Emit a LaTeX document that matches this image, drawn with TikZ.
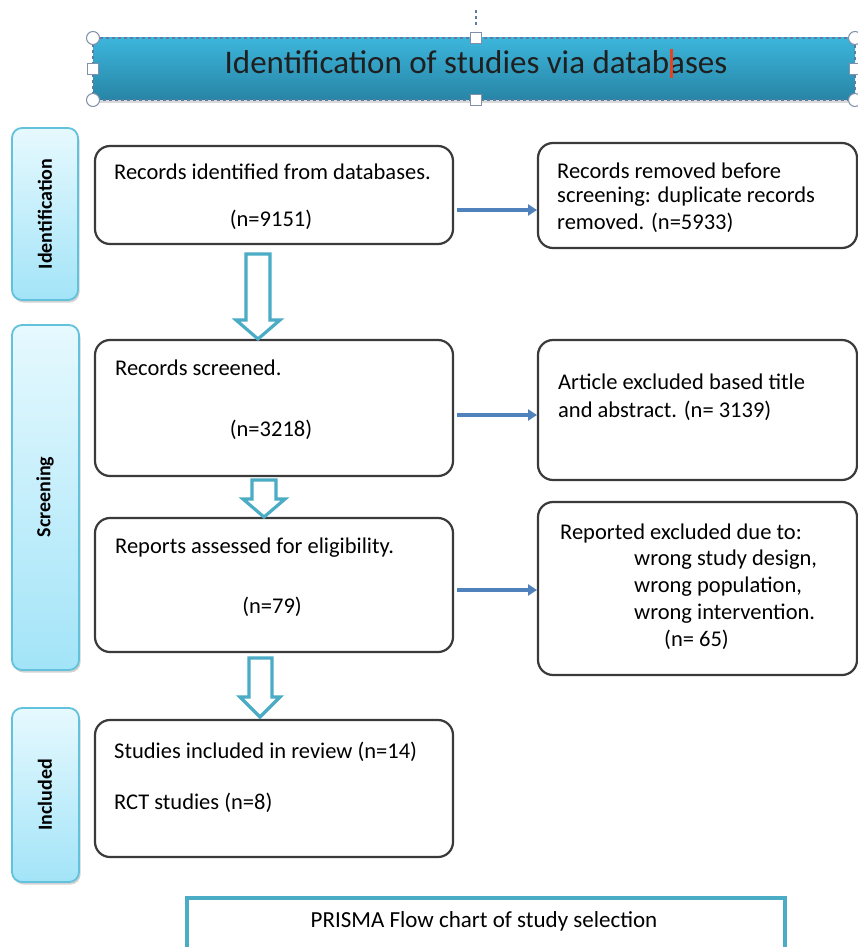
\documentclass[tikz,border=0pt]{standalone}
\usepackage{fontspec}
\setmainfont{Carlito}
\usetikzlibrary{arrows.meta,shadows,calc}
\definecolor{bannertop}{HTML}{3CB5DB}
\definecolor{bannerbot}{HTML}{2785A6}
\definecolor{bannerline}{HTML}{5B7DA3}
\definecolor{sidetop}{HTML}{E6F9FE}
\definecolor{sidebot}{HTML}{A3E4F8}
\definecolor{sideline}{HTML}{62C2DB}
\definecolor{boxline}{HTML}{3A3A3A}
\definecolor{flowblue}{HTML}{4F81BD}
\definecolor{hollowteal}{HTML}{4BACC6}
\definecolor{handle}{HTML}{8090A8}
\definecolor{cursorred}{HTML}{E8431F}
\begin{document}
\begin{tikzpicture}[x=1pt,y=-1pt,
  mainbox/.style={draw=boxline,line width=2.2pt,rounded corners=15pt,fill=white},
  sidebox/.style={draw=sideline,line width=1.8pt,rounded corners=10pt,top color=sidetop,bottom color=sidebot,
     drop shadow={opacity=0.35,shadow xshift=1.5pt,shadow yshift=-2.5pt}},
  sidetext/.style={rotate=90,font=\fontsize{20}{22}\selectfont\bfseries},
  txt/.style={anchor=west,inner sep=0pt,font=\fontsize{22.5}{25}\selectfont},
  ctxt/.style={anchor=center,inner sep=0pt,font=\fontsize{22.5}{25}\selectfont},
  barrow/.style={draw=flowblue,line width=3.2pt,-{Triangle[length=9pt,width=11pt]}},
  hollow/.style={draw=hollowteal,line width=3.2pt,fill=white,line join=miter},
  handlec/.style={circle,draw=handle,fill=white,line width=1pt,minimum size=13pt,inner sep=0pt},
  handles/.style={rectangle,draw=handle,fill=white,line width=1pt,minimum size=11pt,inner sep=0pt}
]
\useasboundingbox (0,0) rectangle (857,947);
\fill[white] (0,0) rectangle (857,947);

% banner
\draw[bannerline,dashed,line width=1.2pt] (476,10) -- (476,28);
\path[top color=bannertop,bottom color=bannerbot,drop shadow={opacity=0.3,shadow xshift=0pt,shadow yshift=-3pt}]
  (93,38) rectangle (855,100);
\draw[bannerline,dashed,line width=1.2pt] (93,38) rectangle (855,100);
\node[inner sep=0pt,font=\fontsize{33}{36}\selectfont,text=black!88] (title) at (476,62) {Identification of studies via databases};
\draw[cursorred,line width=2.2pt] (671.5,49) -- (671.5,78);
\node[handlec] (h1) at (93,38) {};
\node[handlec] (h2) at (855,38) {};
\node[handlec] (h3) at (93,100) {};
\node[handlec] (h4) at (855,100) {};
\node[handles] (h5) at (476,38) {};
\node[handles] (h6) at (476,100) {};
\node[handles] (h7) at (93,69) {};
\node[handles] (h8) at (855,69) {};

% side labels
\path[sidebox] (12,128) rectangle (78,300);
\node[sidetext] (sid) at (45,214) {Identification};
\path[sidebox] (12,325) rectangle (79,670);
\node[sidetext] (sscr) at (45,497) {Screening};
\path[sidebox] (12,708) rectangle (79,882);
\node[sidetext] (sinc) at (45,795) {Included};

% main boxes
\draw[mainbox] (95,146) rectangle (453,244);
\node[txt] (b1a) at (114,172) {Records identified from databases.};
\node[ctxt] (b1b) at (271,220) {(n=9151)};

\draw[mainbox] (95,340) rectangle (453,476);
\node[txt] (b2a) at (115,368) {Records screened.};
\node[ctxt] (b2b) at (271,430) {(n=3218)};

\draw[mainbox] (95,518) rectangle (453,652);
\node[txt] (b3a) at (115,548) {Reports assessed for eligibility.};
\node[ctxt] (b3b) at (272,607) {(n=79)};

\draw[mainbox] (95,720) rectangle (453,857);
\node[txt] (b4a) at (114,752) {Studies included in review (n=14)};
\node[txt] (b4b) at (114,803) {RCT studies (n=8)};

% right boxes
\draw[mainbox] (538,143) rectangle (857,248);
\node[txt] (r1a) at (557,171) {Records removed before};
\node[txt] (r1b) at (557,197) {screening: duplicate records};
\node[txt] (r1c) at (557,223) {removed. (n=5933)};

\draw[mainbox] (538,340) rectangle (857,480);
\node[txt] (r2a) at (558,382) {Article excluded based title};
\node[txt] (r2b) at (558,411) {and abstract. (n= 3139)};

\draw[mainbox] (538,502) rectangle (857,675);
\node[txt] (r3a) at (560,533) {Reported excluded due to:};
\node[txt] (r3b) at (634,560) {wrong study design,};
\node[txt] (r3c) at (634,587) {wrong population,};
\node[txt] (r3d) at (634,614) {wrong intervention.};
\node[txt] (r3e) at (664,640) {(n= 65)};

% blue arrows
\coordinate (a1s) at (457,210); \coordinate (a1e) at (537,210);
\coordinate (a2s) at (457,415); \coordinate (a2e) at (537,415);
\coordinate (a3s) at (457,590); \coordinate (a3e) at (537,590);
\draw[barrow] (a1s) -- (a1e);
\draw[barrow] (a2s) -- (a2e);
\draw[barrow] (a3s) -- (a3e);

% hollow down arrows
\draw[hollow] (246,254) -- (270,254) -- (270,320) -- (280,320) -- (258,339) -- (236,320) -- (246,320) -- cycle;
\draw[hollow] (252,480) -- (276,480) -- (276,499) -- (285,499) -- (264,517) -- (243,499) -- (252,499) -- cycle;
\draw[hollow] (249,658) -- (272,658) -- (272,697) -- (280,697) -- (260,717) -- (240,697) -- (249,697) -- cycle;

% caption
\draw[hollowteal,line width=3.5pt] (187,898) rectangle (785,975);
\node[anchor=center,inner sep=0pt,font=\fontsize{23}{25}\selectfont] (cap) at (484,921) {PRISMA Flow chart of study selection};
\end{tikzpicture}
\end{document}
